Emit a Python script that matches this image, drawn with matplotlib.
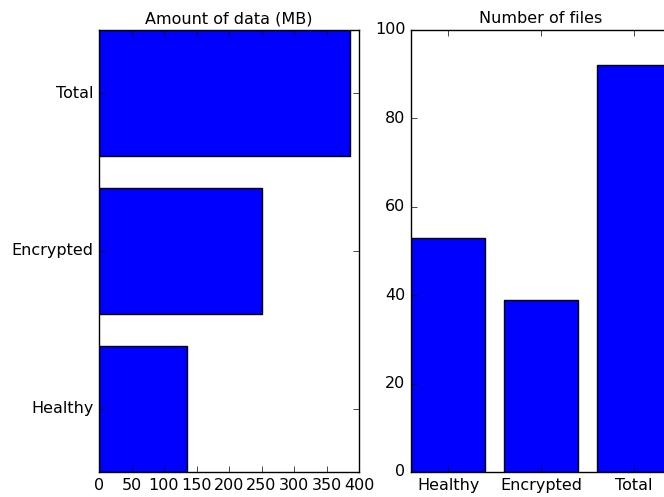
import matplotlib
matplotlib.use("Agg")
import matplotlib.pyplot as plt

categories = ["Healthy", "Encrypted", "Total"]
data_mb = [135, 251, 386]
file_counts = [53, 39, 92]

plt.style.use("classic")
plt.rcParams["font.family"] = ["DejaVu Sans"]

fig = plt.figure(figsize=(6.64, 4.97), dpi=100, facecolor="white")
ax1 = fig.add_axes([99 / 664, 25 / 497, 260 / 664, 442 / 497])
ax2 = fig.add_axes([411 / 664, 25 / 497, 260 / 664, 442 / 497])

pos = range(len(categories))

ax1.barh(pos, data_mb, height=0.8, align="center", color="blue", edgecolor="black")
ax1.set_yticks(list(pos))
ax1.set_yticklabels(categories)
ax1.set_ylim(-0.4, 2.4)
ax1.set_xlim(0, 400)
ax1.set_title("Amount of data (MB)", fontsize=11.5)

ax2.bar(pos, file_counts, width=0.8, align="center", color="blue", edgecolor="black")
ax2.set_xticks(list(pos))
ax2.set_xticklabels(categories)
ax2.set_xlim(-0.4, 2.4)
ax2.set_ylim(0, 100)
ax2.set_title("Number of files", fontsize=11.5)

for ax in (ax1, ax2):
    ax.tick_params(labelsize=11.5)

fig.savefig("out.png", dpi=100, facecolor="white")
